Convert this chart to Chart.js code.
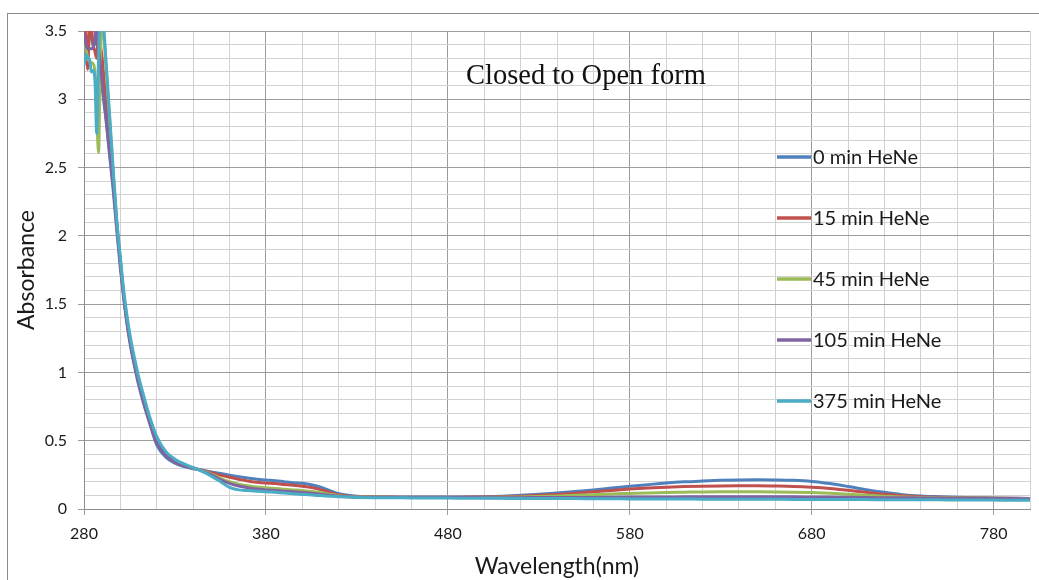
<!DOCTYPE html>
<html>
<head>
<meta charset="utf-8">
<script src="https://cdn.jsdelivr.net/npm/chart.js@4"></script>
<style>
  html, body { margin: 0; padding: 0; background: #fff; }
  #wrap { position: relative; width: 1039px; height: 580px; overflow: hidden; }
  #frame { position: absolute; left: 7px; top: 13px; width: 1100px; height: 700px; border: 1px solid #8c8c8c; box-sizing: border-box; }
  canvas { position: absolute; left: 0; top: 0; }
</style>
</head>
<body>
<div id="wrap">
  <div id="frame"></div>
  <canvas id="c" width="1039" height="580"></canvas>
</div>
<script>
const titleText = "Closed to Open form";
const xAxisTitle = "Wavelength(nm)";
const yAxisTitle = "Absorbance";
const seriesLabels = ["0 min HeNe", "15 min HeNe", "45 min HeNe", "105 min HeNe", "375 min HeNe"];
const seriesColors = ["#4F81BD", "#C0504D", "#9BBB59", "#8064A2", "#4BACC6"];

const wavelengths = [280,281,282,283,284,285,286,287,288,289,290,291,292,294,296,298,300,
  302,304,306,308,310,313,316,320,325,330,335,340,345,
  350,355,360,365,370,375,380,385,390,395,400,405,410,415,420,425,430,440,
  450,460,470,480,490,500,510,520,530,540,550,560,570,580,590,600,610,620,630,640,650,660,670,680,690,700,710,720,730,740,750,760,770,780,790,800];

const min0 = [3.6,3.6,3.55,3.5,3.45,3.4,3.4,3.5,3.35,3.2,3.08,2.97,2.86,2.6,2.34,2.04,1.76,
  1.52,1.32,1.16,1.03,0.91,0.76,0.63,0.47,0.38,0.335,0.31,0.295,0.285,
  0.272,0.26,0.248,0.237,0.227,0.218,0.212,0.207,0.2,0.193,0.188,0.178,0.16,0.135,0.112,0.1,0.094,0.089,
  0.088,0.087,0.087,0.087,0.088,0.09,0.094,0.1,0.108,0.117,0.128,0.14,0.153,0.166,0.178,0.19,0.199,0.205,0.21,0.213,0.214,0.213,0.21,0.202,0.186,0.165,0.142,0.122,0.105,0.095,0.09,0.086,0.083,0.081,0.079,0.077];

const min15 = [3.55,3.5,3.22,3.5,3.52,3.4,3.35,3.3,3.55,3.4,3.3,3.15,3.0,2.7,2.42,2.08,1.8,
  1.54,1.34,1.18,1.05,0.93,0.78,0.645,0.49,0.395,0.345,0.318,0.3,0.283,
  0.265,0.248,0.232,0.218,0.205,0.196,0.19,0.186,0.18,0.174,0.167,0.158,0.142,0.122,0.105,0.096,0.092,0.088,
  0.087,0.086,0.086,0.086,0.087,0.088,0.09,0.094,0.1,0.107,0.116,0.126,0.136,0.146,0.154,0.16,0.164,0.167,0.169,0.17,0.17,0.168,0.165,0.159,0.15,0.137,0.122,0.108,0.097,0.09,0.086,0.083,0.081,0.079,0.078,0.076];

const min45 = [3.4,3.38,3.3,3.28,3.27,3.26,3.2,2.9,2.61,3.3,3.6,3.45,3.25,2.87,2.47,2.1,1.83,
  1.56,1.36,1.2,1.07,0.95,0.8,0.66,0.5,0.405,0.355,0.322,0.3,0.28,
  0.255,0.225,0.2,0.182,0.17,0.161,0.155,0.15,0.145,0.14,0.135,0.128,0.12,0.108,0.098,0.092,0.089,0.086,
  0.085,0.085,0.085,0.085,0.085,0.085,0.086,0.088,0.091,0.095,0.1,0.105,0.11,0.114,0.118,0.121,0.123,0.125,0.126,0.126,0.126,0.125,0.123,0.12,0.115,0.108,0.1,0.093,0.088,0.085,0.083,0.081,0.08,0.079,0.077,0.076];

const min105 = [3.48,3.4,3.37,3.37,3.37,3.38,3.45,3.55,3.38,3.25,3.12,3.0,2.88,2.62,2.38,2.08,1.8,
  1.54,1.34,1.18,1.05,0.93,0.78,0.65,0.49,0.395,0.345,0.318,0.3,0.278,
  0.25,0.215,0.188,0.168,0.155,0.146,0.14,0.135,0.13,0.126,0.121,0.115,0.108,0.1,0.094,0.09,0.087,0.085,
  0.084,0.084,0.084,0.084,0.084,0.083,0.083,0.083,0.084,0.084,0.085,0.085,0.086,0.087,0.088,0.088,0.089,0.089,0.09,0.09,0.09,0.089,0.089,0.088,0.087,0.086,0.084,0.083,0.082,0.081,0.08,0.079,0.078,0.077,0.076,0.075];

const min375 = [3.25,3.33,3.3,3.3,3.2,3.21,3.15,2.75,3.3,3.6,3.6,3.5,3.3,2.9,2.5,2.12,1.84,
  1.58,1.38,1.22,1.09,0.97,0.82,0.68,0.53,0.42,0.365,0.33,0.303,0.275,
  0.24,0.2,0.158,0.14,0.135,0.13,0.127,0.122,0.117,0.112,0.107,0.102,0.098,0.094,0.09,0.087,0.085,0.083,
  0.082,0.081,0.08,0.08,0.079,0.079,0.078,0.077,0.077,0.076,0.076,0.075,0.075,0.074,0.074,0.073,0.073,0.072,0.072,0.072,0.071,0.071,0.07,0.07,0.07,0.069,0.069,0.068,0.068,0.067,0.067,0.066,0.066,0.065,0.064,0.064];

const seriesValues = [min0, min15, min45, min105, min375];

const xMin = 280, xMax = 800, xStep = 20, xLabelStep = 100;
const yMin = 0, yMax = 3.5, yStep = 0.1, yLabelStep = 0.5;

const tickFont = { family: "Lato, 'Open Sans', sans-serif", size: 16 };
const textColor = "#1a1a1a";
const majorGrid = "#9c9c9c";
const minorGrid = "#d2d2d2";

function isMajorX(v) { return Math.abs(((v - xMin) % xLabelStep)) < 1e-6; }
function isMajorY(v) { const r = Math.round(v * 10); return r % 5 === 0; }

const datasets = seriesValues.map((vals, i) => ({
  label: seriesLabels[i],
  data: wavelengths.map((x, j) => ({ x: x, y: vals[j] })),
  borderColor: seriesColors[i],
  backgroundColor: seriesColors[i],
  borderWidth: 3,
  pointRadius: 0,
  cubicInterpolationMode: 'monotone',
  fill: false,
  order: 5 - i
}));

const overlayPlugin = {
  id: 'overlay',
  afterDraw(chart) {
    const { ctx, chartArea: a } = chart;
    ctx.save();
    ctx.fillStyle = "#111";
    ctx.font = "28.5px 'Liberation Serif', 'Times New Roman', serif";
    ctx.textBaseline = 'middle';
    ctx.textAlign = 'left';
    ctx.fillText(titleText, a.left + 382, a.top + 46);
    ctx.font = "20px Lato, 'Open Sans', sans-serif";
    chart.data.datasets.forEach((ds, i) => {
      const y = a.top + 126 + i * 61;
      ctx.strokeStyle = ds.borderColor;
      ctx.lineWidth = 3.5;
      ctx.beginPath();
      ctx.moveTo(a.left + 693, y);
      ctx.lineTo(a.left + 727, y);
      ctx.stroke();
      ctx.fillStyle = textColor;
      ctx.fillText(ds.label, a.left + 729, y + 1);
    });
    ctx.restore();
  }
};

new Chart(document.getElementById('c'), {
  type: 'line',
  data: { datasets },
  options: {
    responsive: false,
    animation: false,
    devicePixelRatio: 1,
    layout: { padding: { top: 31, right: 9, left: 0, bottom: 0 } },
    plugins: { legend: { display: false }, tooltip: { enabled: false } },
    scales: {
      x: {
        type: 'linear',
        min: xMin, max: xMax,
        afterFit(scale) { scale.height = 71; },
        afterBuildTicks(scale) {
          const t = [];
          for (let v = xMin; v <= xMax + 1e-9; v += xStep) t.push({ value: v });
          scale.ticks = t;
        },
        ticks: {
          autoSkip: false,
          maxRotation: 0,
          padding: 9,
          color: textColor,
          font: tickFont,
          callback: (v) => isMajorX(v) ? String(v) : ''
        },
        grid: {
          color: (c) => isMajorX(c.tick.value) ? majorGrid : minorGrid,
          tickColor: (c) => isMajorX(c.tick.value) ? majorGrid : 'rgba(0,0,0,0)',
          tickLength: 6,
          lineWidth: 1
        },
        border: { color: '#8c8c8c', width: 1 },
        title: {
          display: true, text: xAxisTitle, color: textColor,
          font: { family: "Lato, 'Open Sans', sans-serif", size: 23 },
          padding: { top: 0, bottom: 0 }
        }
      },
      y: {
        type: 'linear',
        min: yMin, max: yMax,
        afterFit(scale) { scale.width = 84; },
        afterBuildTicks(scale) {
          const t = [];
          for (let k = 0; k <= Math.round((yMax - yMin) / yStep); k++) t.push({ value: +(yMin + k * yStep).toFixed(2) });
          scale.ticks = t;
        },
        ticks: {
          autoSkip: false,
          padding: 11,
          color: textColor,
          font: tickFont,
          callback: (v) => isMajorY(v) ? String(+v.toFixed(1)) : ''
        },
        grid: {
          color: (c) => isMajorY(c.tick.value) ? majorGrid : minorGrid,
          tickColor: (c) => isMajorY(c.tick.value) ? majorGrid : 'rgba(0,0,0,0)',
          tickLength: 6,
          lineWidth: 1
        },
        border: { color: '#8c8c8c', width: 1 },
        title: {
          display: true, text: yAxisTitle, color: textColor,
          font: { family: "Lato, 'Open Sans', sans-serif", size: 23 },
          padding: { top: 13, bottom: 0 }
        }
      }
    }
  },
  plugins: [overlayPlugin]
});
</script>
</body>
</html>
